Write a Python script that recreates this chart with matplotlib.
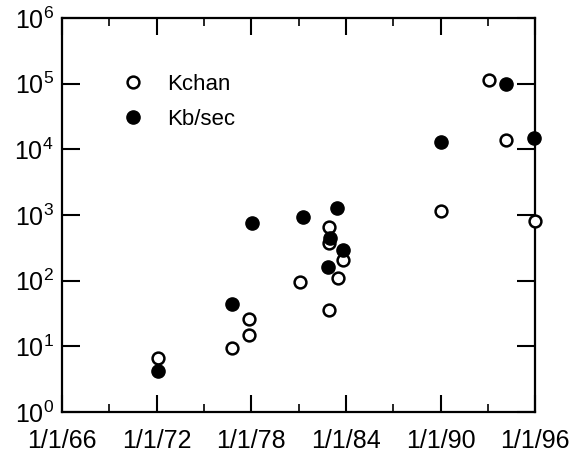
import numpy as np
import pandas as pd
import matplotlib
matplotlib.use("Agg")
import matplotlib.pyplot as plt
from matplotlib.ticker import LogLocator, NullLocator

plt.rcParams['font.family'] = ['Liberation Sans', 'DejaVu Sans']
plt.rcParams['mathtext.default'] = 'regular'

# -------------------------------------------------
# Data
# -------------------------------------------------
kchan_dates = ["1972-02-01", "1976-10-15", "1977-11-10", "1977-11-10", "1981-02-01",
               "1982-12-01", "1982-12-01", "1983-10-15", "1983-07-01", "1982-12-01",
               "1990-01-01", "1993-02-01", "1994-03-01", "1996-01-01"]
kchan_vals = [6.6, 9.4, 26, 15, 95, 660, 375, 205, 110, 36, 1150, 114000, 14000, 810]

kbps_dates = ["1972-02-01", "1976-10-15", "1978-01-20", "1981-04-10", "1983-06-10",
              "1983-01-01", "1983-10-15", "1982-11-01", "1990-01-01", "1994-03-01",
              "1995-12-10"]
kbps_vals = [4.2, 44, 750, 940, 1270, 445, 295, 162, 12900, 98000, 14800]

xtick_dates = ["1966-01-01", "1972-01-01", "1978-01-01", "1984-01-01", "1990-01-01", "1996-01-01"]
xtick_labels = ["1/1/66", "1/1/72", "1/1/78", "1/1/84", "1/1/90", "1/1/96"]
xminor_dates = ["1969-01-01", "1975-01-01", "1981-01-01", "1987-01-01", "1993-01-01"]

# -------------------------------------------------
# Plot
# -------------------------------------------------
fig = plt.figure(figsize=(5.85, 4.57), dpi=100)
ax = fig.add_axes([0.106, 0.0985, 0.809, 0.862])

ax.plot(pd.to_datetime(kchan_dates), kchan_vals, 'o', ms=8.5, mfc='white', mec='black',
        mew=1.8, ls='none', label='Kchan', clip_on=False, zorder=3)
ax.plot(pd.to_datetime(kbps_dates), kbps_vals, 'o', ms=9.5, mfc='black', mec='black',
        mew=1.0, ls='none', label='Kb/sec', clip_on=False, zorder=4)

ax.set_yscale('log')
ax.set_ylim(1, 1e6)
ax.set_xlim(pd.Timestamp("1966-01-01"), pd.Timestamp("1996-01-01"))

ax.yaxis.set_major_locator(LogLocator(base=10, numticks=10))
ax.yaxis.set_minor_locator(NullLocator())

ax.set_xticks(pd.to_datetime(xtick_dates))
ax.set_xticklabels(xtick_labels)
ax.set_xticks(pd.to_datetime(xminor_dates), minor=True)

for s in ax.spines.values():
    s.set_linewidth(1.6)

ax.tick_params(axis='x', which='major', direction='in', length=12, width=1.5,
               top=True, labelsize=18, pad=12)
ax.tick_params(axis='x', which='minor', direction='in', length=6, width=1.2, top=True)
ax.tick_params(axis='y', which='major', direction='in', length=13, width=1.5,
               right=True, labelsize=18, pad=6)

leg = ax.legend(loc='upper left', bbox_to_anchor=(0.085, 0.91), frameon=False,
                fontsize=16, handletextpad=1.0, labelspacing=0.65, handlelength=1.0)

fig.savefig("out.png", dpi=100)
